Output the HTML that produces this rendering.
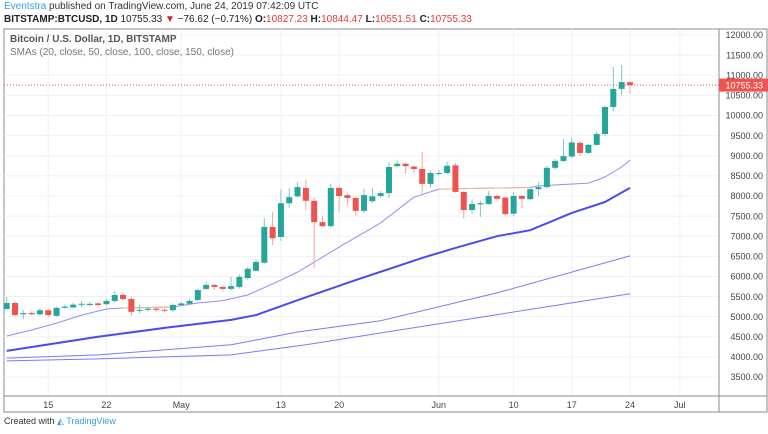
<!DOCTYPE html>
<html><head><meta charset="utf-8"><style>
body{margin:0;background:#fff;font-family:"Liberation Sans",sans-serif;}
#wrap{position:relative;width:768px;height:434px;overflow:hidden;background:#fff}
.t{position:absolute;white-space:nowrap}
</style></head><body>
<div id="wrap">
<div class="t" style="left:4px;top:1px;font-size:10px;color:#333"><span style="color:#3a9ee0">Eventstra</span> published on TradingView.com, June 24, 2019 07:42:09 UTC</div>
<div class="t" style="left:4px;top:14px;font-size:10px;color:#222"><b>BITSTAMP:BTCUSD, 1D</b> 10755.33 <span style="color:#c62828">▼</span> −76.62 (−0.71%) <b>O:</b><span style="color:#e53935">10827.23</span> <b>H:</b><span style="color:#e53935">10844.47</span> <b>L:</b><span style="color:#e53935">10551.51</span> <b>C:</b><span style="color:#e53935">10755.33</span></div>
<svg id="svg" width="768" height="434" style="position:absolute;left:0;top:0"></svg>
<div class="t" style="left:10px;top:34px;font-size:10px;color:#555;font-weight:bold">Bitcoin / U.S. Dollar, 1D, BITSTAMP</div>
<div class="t" style="left:10px;top:47px;font-size:10px;color:#777">SMAs (20, close, 50, close, 100, close, 150, close)</div>
<div class="t" style="left:4px;top:416px;font-size:9px;color:#333">Created with <span style="color:#3a9ee0">◭ TradingView</span></div>
</div>
<script>
const opens=[5190,5340,5060,5090,5060,5160,5020,5220,5230,5300,5290,5330,5310,5390,5540,5440,5150,5170,5200,5170,5160,5290,5320,5415,5690,5790,5740,5690,5740,5960,6140,6340,7230,6980,7820,7990,8200,7880,7350,7250,8200,8020,7950,7630,7870,8000,8070,8740,8800,8730,8670,8300,8550,8570,8760,8100,7650,7790,7800,8000,7960,7560,8000,7920,8170,8220,8700,8870,8980,9320,9070,9270,9540,10210,10660,10827.23];
const closes=[5340,5040,5090,5060,5160,5040,5220,5250,5300,5320,5320,5290,5390,5540,5440,5120,5170,5200,5170,5160,5290,5330,5390,5660,5790,5740,5690,5760,5990,6190,6360,7230,6950,7820,7970,8220,7880,7350,7250,8200,8000,7950,7630,8020,7990,8070,8720,8800,8740,8670,8300,8570,8570,8750,8100,7650,7800,7820,8000,7930,7550,8000,7930,8170,8220,8700,8870,8990,9330,9070,9270,9540,10210,10660,10830,10755.33];
const highs=[5490,5370,5160,5130,5210,5190,5250,5300,5350,5390,5360,5370,5440,5640,5590,5490,5300,5250,5250,5210,5330,5380,5440,5700,5860,5810,5760,5990,6050,6240,6420,7450,7600,8170,8190,8340,8400,7970,7500,8300,8240,8060,7980,8180,8200,8120,8820,8880,8820,8750,9100,8640,8640,8850,8820,8120,7920,7880,8120,8040,7980,8100,8010,8230,8340,8750,8920,9420,9450,9360,9300,9600,10250,11200,11250,10844.47];
const lows=[5180,4990,4940,5040,5020,4990,5000,5200,5210,5240,5260,5240,5280,5350,5400,5020,5080,5130,5120,5100,5130,5270,5300,5380,5660,5660,5620,5660,5700,5930,6120,6320,6780,6880,7700,7960,7650,6210,7220,7220,7600,7760,7500,7570,7820,7960,7950,8710,8550,8560,8020,8200,8510,8540,8080,7450,7560,7480,7780,7880,7520,7500,7690,7890,8000,8180,8660,8840,8950,9000,9040,9250,9500,10100,10500,10551.51];
const sma20Idx=[0,3,6,9,12,14,20,23,26,29,33,35,36,40,45,49,52,57,63,64,70,72,74,75];
const sma20Val=[4520,4670,4840,5040,5190,5215,5240,5340,5400,5540,5910,6110,6230,6730,7330,7970,8170,8190,8210,8250,8320,8470,8720,8890];
const orangeRanges=[[14,20],[52,63]];
const sma50Idx=[0,11,19,27,30,35,42,50,54,59,63,68,72,75];
const sma50Val=[4150,4500,4720,4920,5040,5410,5910,6460,6710,7000,7150,7580,7850,8200];
const sma100Idx=[0,11,27,35,45,59,75];
const sma100Val=[3970,4050,4300,4620,4900,5590,6510];
const sma150Idx=[0,11,27,36,51,75];
const sma150Val=[3900,3950,4050,4300,4790,5570];
const priceTicks=[3500,4000,4500,5000,5500,6000,6500,7000,7500,8000,8500,9000,9500,10000,10500,11000,11500,12000];
const timeLabels=["15","22","May","13","20","Jun","10","17","24","Jul"];
const timeDays=[5,12,21,33,40,52,61,68,75,81];
const lastPrice=10755.33;

const NS="http://www.w3.org/2000/svg";
const svg=document.getElementById('svg');
const X0=6.7,DX=8.31,PX=719;
const xs=i=>X0+i*DX;
const ys=p=>35+(12000-p)*0.04024;
function mk(t,a){const e=document.createElementNS(NS,t);for(const k in a)e.setAttribute(k,a[k]);svg.appendChild(e);return e;}
let e;
e=mk('rect',{x:4,y:29,width:763,height:383,fill:'none',stroke:'#8a8a96','stroke-width':1});


priceTicks.forEach(p=>{
 const y=ys(p);
 if(y>30&&y<395){
 e=mk('line',{x1:4,x2:PX,y1:y,y2:y,stroke:'#edf1f5'});
 
 
 e=mk('text',{x:763,y:y+3.2,'text-anchor':'end','font-size':'9',fill:'#444','font-family':'Liberation Sans'});
 e.textContent=p.toFixed(2);
 
 }
});
timeDays.forEach((d,k)=>{
 const x=xs(d);
 e=mk('line',{x1:x,x2:x,y1:29,y2:396,stroke:'#edf1f5'});
 
 
 e=mk('text',{x:x,y:408,'text-anchor':'middle','font-size':'9',fill:'#444','font-family':'Liberation Sans'});
 e.textContent=timeLabels[k];
 
 
});
e=mk('line',{x1:4,x2:767,y1:396,y2:396,stroke:'#8a8a96'});


e=mk('line',{x1:PX,x2:PX,y1:29,y2:412,stroke:'#8a8a96'});


function line(idx,val,color,w,name){
 const pts=idx.map((i,k)=>xs(i).toFixed(1)+','+ys(val[k]).toFixed(1)).join(' ');
 const l=mk('polyline',{points:pts,fill:'none',stroke:color,'stroke-width':w,'stroke-linejoin':'round'});
 
 
}
line(sma150Idx,sma150Val,'#7b7bf5',1,'sma150-line');
line(sma100Idx,sma100Val,'#7b7bf5',1,'sma100-line');
line(sma50Idx,sma50Val,'#4a4af0',2,'sma50-line');
line(sma20Idx,sma20Val,'#8f8ff7',1,'sma20-line');
function interp(i){for(let k=0;k<sma20Idx.length-1;k++){if(i>=sma20Idx[k]&&i<=sma20Idx[k+1]){const t=(i-sma20Idx[k])/(sma20Idx[k+1]-sma20Idx[k]);return sma20Val[k]+t*(sma20Val[k+1]-sma20Val[k]);}}return sma20Val[sma20Val.length-1];}
orangeRanges.forEach(r=>{
 const idx=[],val=[];for(let i=r[0];i<=r[1];i++){idx.push(i);val.push(interp(i));}
 line(idx,val,'#f6b98a',1,'sma20-orange-segment');
});
opens.forEach((o,i)=>{
 const c=closes[i],up=c>=o,x=xs(i);
 const col=up?'#26a69a':'#ef5350',wc=up?'#7cc8bf':'#f5a3a1';
 e=mk('line',{x1:x,x2:x,y1:ys(highs[i]),y2:ys(lows[i]),stroke:wc,'stroke-width':1});
 
 
 const y1=ys(Math.max(o,c)),h=Math.max(1,ys(Math.min(o,c))-y1);
 e=mk('rect',{x:x-3,y:y1,width:6,height:h,fill:col});
 
 
});
const ly=ys(lastPrice);
e=mk('line',{x1:4,x2:PX,y1:ly,y2:ly,stroke:'#ef5350','stroke-dasharray':'1,2','stroke-width':1});


e=mk('rect',{x:PX,y:ly-6.5,width:49,height:13,fill:'#ef5350'});


e=mk('text',{x:763,y:ly+3.2,'text-anchor':'end','font-size':'9',fill:'#fff','font-family':'Liberation Sans'});
e.textContent=lastPrice.toFixed(2);


</script>
</body></html>
